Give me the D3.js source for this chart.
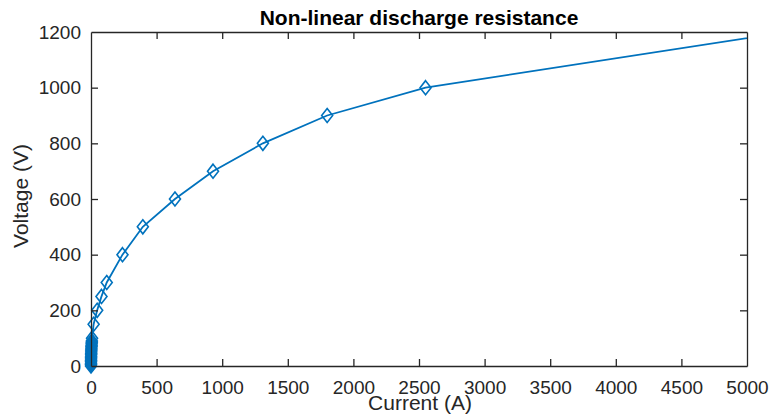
<!DOCTYPE html>
<html><head><meta charset="utf-8">
<script src="https://cdn.jsdelivr.net/npm/d3@7"></script>
<style>body{margin:0;background:#fff;} svg{display:block;}</style>
</head><body>
<svg id="chart" width="769" height="415"></svg>
<script>
const currentA = [0, 0.1, 0.2, 0.3, 0.5, 0.7, 0.9, 1.1, 1.4, 1.7, 2, 2.4, 2.8, 3.3, 3.8, 4.4, 5, 5.7, 6.5, 8, 20, 47, 80, 120, 240, 395, 640, 930, 1310, 1800, 2550, 5300];
const voltageV = [0, 5, 10, 15, 20, 25, 30, 35, 40, 45, 50, 55, 60, 65, 70, 75, 80, 85, 90, 100, 150, 200, 250, 300, 400, 500, 600, 700, 800, 900, 1000, 1200];
const xTicks = [0, 500, 1000, 1500, 2000, 2500, 3000, 3500, 4000, 4500, 5000];
const yTicks = [0, 200, 400, 600, 800, 1000, 1200];
const titleText = "Non-linear discharge resistance";
const xLabel = "Current (A)";
const yLabel = "Voltage (V)";

(function () {
const svg = d3.select("#chart");
const L = 91, R = 747, T = 32, B = 366;
const x = d3.scaleLinear().domain([0, 5000]).range([L, R]);
const y = d3.scaleLinear().domain([0, 1200]).range([B, T]);
const data = currentA.map((c, i) => ({c, v: voltageV[i]}));
const col = "#0072BD", axCol = "#262626";
const font = "'Liberation Sans', Arial, Helvetica, sans-serif";

svg.append("defs").append("clipPath").attr("id", "clip")
  .append("rect").attr("x", L).attr("y", T).attr("width", R - L).attr("height", B - T);

const g = svg.append("g").attr("clip-path", "url(#clip)");
g.append("path").datum(data)
  .attr("fill", "none").attr("stroke", col).attr("stroke-width", 1.8)
  .attr("d", d3.line().x(d => x(d.c)).y(d => y(d.v)));
svg.append("g").selectAll("path.m").data(data.filter(d => d.c <= 5000)).join("path").attr("class", "m")
  .attr("fill", "none").attr("stroke", col).attr("stroke-width", 1.6)
  .attr("transform", d => `translate(${x(d.c)},${y(d.v)})`)
  .attr("d", "M0,-7L5.5,0L0,7L-5.5,0Z");

const tl = 7;
const fmt = d3.format("d");
const axB = svg.append("g").attr("transform", `translate(0,${B})`)
  .call(d3.axisBottom(x).tickValues(xTicks).tickFormat(fmt).tickSizeInner(-tl).tickSizeOuter(0).tickPadding(15));
const axT = svg.append("g").attr("transform", `translate(0,${T})`)
  .call(d3.axisTop(x).tickValues(xTicks).tickSizeInner(-tl).tickSizeOuter(0).tickFormat(""));
const axL = svg.append("g").attr("transform", `translate(${L},0)`)
  .call(d3.axisLeft(y).tickValues(yTicks).tickFormat(fmt).tickSizeInner(-tl).tickSizeOuter(0).tickPadding(10));
const axR = svg.append("g").attr("transform", `translate(${R},0)`)
  .call(d3.axisRight(y).tickValues(yTicks).tickSizeInner(-tl).tickSizeOuter(0).tickFormat(""));
[axB, axT, axL, axR].forEach(a => {
  a.selectAll("path.domain").attr("stroke", axCol).attr("stroke-width", 1.3);
  a.selectAll(".tick line").attr("stroke", axCol).attr("stroke-width", 1.3);
  a.selectAll(".tick text").attr("fill", axCol).style("font-family", font).style("font-size", "19px");
});
[axB, axT].forEach(a => a.selectAll(".tick").filter(d => d === 0 || d === 5000).select("line").remove());
[axL, axR].forEach(a => a.selectAll(".tick").filter(d => d === 0 || d === 1200).select("line").remove());

svg.append("text").attr("x", (L + R) / 2).attr("y", 25).attr("text-anchor", "middle")
  .style("font-family", font).style("font-size", "21px").style("font-weight", "bold")
  .attr("fill", "#000").text(titleText);
svg.append("text").attr("x", (L + R) / 2 + 1).attr("y", 410).attr("text-anchor", "middle")
  .style("font-family", font).style("font-size", "21px").attr("fill", axCol).text(xLabel);
svg.append("text").attr("transform", `translate(28,196) rotate(-90)`).attr("text-anchor", "middle")
  .style("font-family", font).style("font-size", "21px").attr("fill", axCol).text(yLabel);
})();
</script>
</body></html>
